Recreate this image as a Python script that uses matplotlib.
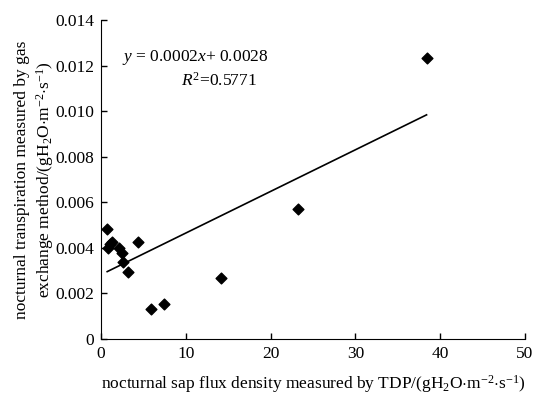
import numpy as np
import matplotlib
matplotlib.use("Agg")
import matplotlib.pyplot as plt

plt.rcParams['font.family'] = 'Liberation Serif'
plt.rcParams['mathtext.fontset'] = 'custom'
plt.rcParams['mathtext.rm'] = 'Liberation Serif'
plt.rcParams['mathtext.it'] = 'Liberation Serif:italic'

# nocturnal sap flux (TDP) vs nocturnal transpiration (gas exchange)
sap_flux = [0.74, 0.86, 1.06, 1.25, 2.11, 2.5, 2.62, 3.2, 4.38, 5.95, 7.43, 14.12, 23.2, 38.4]
transp = [0.00481, 0.00401, 0.00417, 0.00427, 0.00401, 0.00376, 0.00339, 0.00294,
          0.00426, 0.00130, 0.00155, 0.00269, 0.00571, 0.01232]

x_ticks = [0, 10, 20, 30, 40, 50]
y_ticks = [0, 0.002, 0.004, 0.006, 0.008, 0.010, 0.012, 0.014]
y_tick_labels = ['0', '0.002', '0.004', '0.006', '0.008', '0.010', '0.012', '0.014']

fig = plt.figure(figsize=(5.34, 3.95), dpi=100)
ax = fig.add_axes([0.189, 0.142, 0.794, 0.807])

ax.scatter(sap_flux, transp, marker='D', s=30, color='black', zorder=3)

# linear fit line over data range
k, b = np.polyfit(sap_flux, transp, 1)
xf = np.array([min(sap_flux), max(sap_flux)])
ax.plot(xf, k * xf + b, color='black', lw=1.2)

ax.set_xlim(0, 50)
ax.set_ylim(0, 0.014)
ax.set_xticks(x_ticks)
ax.set_yticks(y_ticks)
ax.set_yticklabels(y_tick_labels)
ax.tick_params(direction='in', length=4, labelsize=12.5, width=1)
ax.tick_params(axis='x', pad=5)
ax.tick_params(axis='y', pad=5)
ax.spines['top'].set_visible(False)
ax.spines['right'].set_visible(False)

ax.text(0.049, 0.884, r'$y$ = 0.0002$x$+ 0.0028', transform=ax.transAxes,
        fontsize=12.5, va='center')
ax.text(0.188, 0.81, r'$R^2$=0.5771', transform=ax.transAxes, fontsize=12.5, va='center')

ax.set_xlabel(r'nocturnal sap flux density measured by TDP/(gH$_2$O$\cdot$m$^{-2}$$\cdot$s$^{-1}$)',
              fontsize=12.5, labelpad=8)
ax.set_ylabel('nocturnal transpiration measured by gas\n'
              r'exchange method/(gH$_2$O$\cdot$m$^{-2}$$\cdot$s$^{-1}$)',
              fontsize=12.5, labelpad=-1, linespacing=1.3)

fig.savefig('out.png', dpi=100)
